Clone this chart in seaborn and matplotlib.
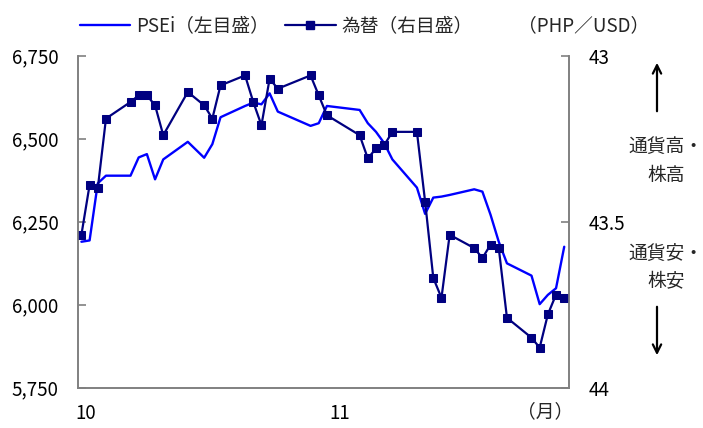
import pandas as pd
import matplotlib
matplotlib.use("Agg")
import matplotlib.pyplot as plt
import matplotlib.dates as mdates
from matplotlib.lines import Line2D
from matplotlib.ticker import FuncFormatter, FixedLocator
import seaborn as sns

# ── Data ──────────────────────────────────────────────────────────
dates = pd.to_datetime([
    "2013-10-01", "2013-10-02", "2013-10-03", "2013-10-04", "2013-10-07",
    "2013-10-08", "2013-10-09", "2013-10-10", "2013-10-11", "2013-10-14",
    "2013-10-16", "2013-10-17", "2013-10-18", "2013-10-21", "2013-10-22",
    "2013-10-23", "2013-10-24", "2013-10-25", "2013-10-29", "2013-10-30",
    "2013-10-31", "2013-11-04", "2013-11-05", "2013-11-06", "2013-11-07",
    "2013-11-08", "2013-11-11", "2013-11-12", "2013-11-13", "2013-11-14",
    "2013-11-15", "2013-11-18", "2013-11-19", "2013-11-20", "2013-11-21",
    "2013-11-22", "2013-11-25", "2013-11-26", "2013-11-27", "2013-11-28",
    "2013-11-29",
])
psei = [6189, 6193, 6365, 6388, 6388, 6443, 6453, 6377, 6437, 6490,
        6442, 6483, 6564, 6598, 6608, 6603, 6636, 6581, 6538, 6546,
        6598, 6586, 6546, 6520, 6486, 6437, 6352, 6273, 6322, 6325,
        6330, 6347, 6340, 6270, 6189, 6124, 6087, 6001, 6029, 6049,
        6174]
fx = [43.54, 43.39, 43.40, 43.19, 43.14, 43.12, 43.12, 43.15, 43.24, 43.11,
      43.15, 43.19, 43.09, 43.06, 43.14, 43.21, 43.07, 43.10, 43.06, 43.12,
      43.18, 43.24, 43.31, 43.28, 43.27, 43.23, 43.23, 43.44, 43.67, 43.73,
      43.54, 43.58, 43.61, 43.57, 43.58, 43.79, 43.85, 43.88, 43.78, 43.72,
      43.73]
left_ticks = [5750, 6000, 6250, 6500, 6750]
right_ticks = [43, 43.5, 44]
right_tick_labels = ["43", "43.5", "44"]
month_labels = ["10", "11"]

df = pd.DataFrame({"date": dates + pd.Timedelta(hours=10), "PSEi": psei, "FX": fx})

# ── Style ──────────────────────────────────────────────────────────
sns.set_theme(style="white")
plt.rcParams["font.family"] = ["Noto Sans CJK JP", "DejaVu Sans"]
FS = 13.5
plt.rcParams["font.size"] = FS

BLUE = "#0000FF"
NAVY = "#000080"
GRAY = "#808080"

fig = plt.figure(figsize=(7.03, 4.28), dpi=100)
ax = fig.add_axes([78 / 703, 1 - 387.5 / 428, (569 - 78) / 703, 332 / 428])
ax2 = ax.twinx()

sns.lineplot(data=df, x="date", y="PSEi", ax=ax, color=BLUE, lw=1.7)
sns.lineplot(data=df, x="date", y="FX", ax=ax2, color=NAVY, lw=1.6,
             marker="s", markersize=6, markeredgecolor=NAVY)

ax.set_xlim(pd.Timestamp("2013-10-01"), pd.Timestamp("2013-11-30"))
ax.set_ylim(5750, 6750)
ax2.set_ylim(44, 43)

ax.set_yticks(left_ticks)
ax.yaxis.set_major_formatter(FuncFormatter(lambda v, p: f"{v:,.0f}"))
ax2.set_yticks(right_ticks)
ax2.set_yticklabels(right_tick_labels)

# month ticks: marks at month start, labels a little to the right
month_starts = [pd.Timestamp("2013-10-01"), pd.Timestamp("2013-11-01")]
ax.xaxis.set_major_locator(FixedLocator(mdates.date2num(month_starts)))
ax.xaxis.set_major_formatter(FuncFormatter(lambda v, p: ""))
ax.xaxis.set_minor_locator(FixedLocator(mdates.date2num(
    [d + pd.Timedelta(days=1) for d in month_starts])))
ax.set_xticklabels(month_labels, minor=True)

for a in (ax, ax2):
    a.set_xlabel("")
    a.set_ylabel("")
    for s in a.spines.values():
        s.set_color(GRAY)
        s.set_linewidth(1.2)
    a.spines["top"].set_visible(False)
    a.grid(False)

ax.tick_params(axis="y", which="major", direction="in", length=6, width=1.2,
               color=GRAY, pad=14, labelsize=FS, labelcolor="black")
ax2.tick_params(axis="y", which="major", direction="in", length=6, width=1.2,
                color=GRAY, pad=14, labelsize=FS, labelcolor="black")
ax.tick_params(axis="x", which="major", direction="in", length=6, width=1.2,
               color=GRAY)
ax.tick_params(axis="x", which="minor", length=0, pad=11, labelsize=FS,
               labelcolor="black")

# ── Legend & annotations ──────────────────────────────────────────
handles = [
    Line2D([], [], color=BLUE, lw=1.7),
    Line2D([], [], color=NAVY, lw=1.6, marker="s", markersize=6),
]
fig.legend(handles, ["PSEi（左目盛）", "為替（右目盛）"], loc="center left",
           bbox_to_anchor=(80 / 703, 1 - 26 / 428), ncol=2, frameon=False,
           borderpad=0, borderaxespad=0, handlelength=2.67, handletextpad=0.3,
           columnspacing=0.9, numpoints=1, fontsize=FS)
fig.text(649 / 703, 1 - 26 / 428, "（PHP／USD）", ha="right", va="center", fontsize=FS)
fig.text(517 / 703, 1 - 412 / 428, "（月）", ha="left", va="center", fontsize=FS)

fig.text(666 / 703, 1 - 161 / 428, "通貨高・\n株高", ha="center", va="center",
         fontsize=FS, linespacing=1.45)
fig.text(666 / 703, 1 - 268 / 428, "通貨安・\n株安", ha="center", va="center",
         fontsize=FS, linespacing=1.45)
arrow = dict(arrowstyle="->", color="black", lw=1.6, mutation_scale=15)
ax.annotate("", xy=(657 / 703, 1 - 60 / 428), xytext=(657 / 703, 1 - 114 / 428),
            xycoords="figure fraction", textcoords="figure fraction",
            arrowprops=arrow, annotation_clip=False)
ax.annotate("", xy=(657 / 703, 1 - 358 / 428), xytext=(657 / 703, 1 - 304 / 428),
            xycoords="figure fraction", textcoords="figure fraction",
            arrowprops=arrow, annotation_clip=False)

fig.savefig("out.png", dpi=100)
plt.close(fig)
